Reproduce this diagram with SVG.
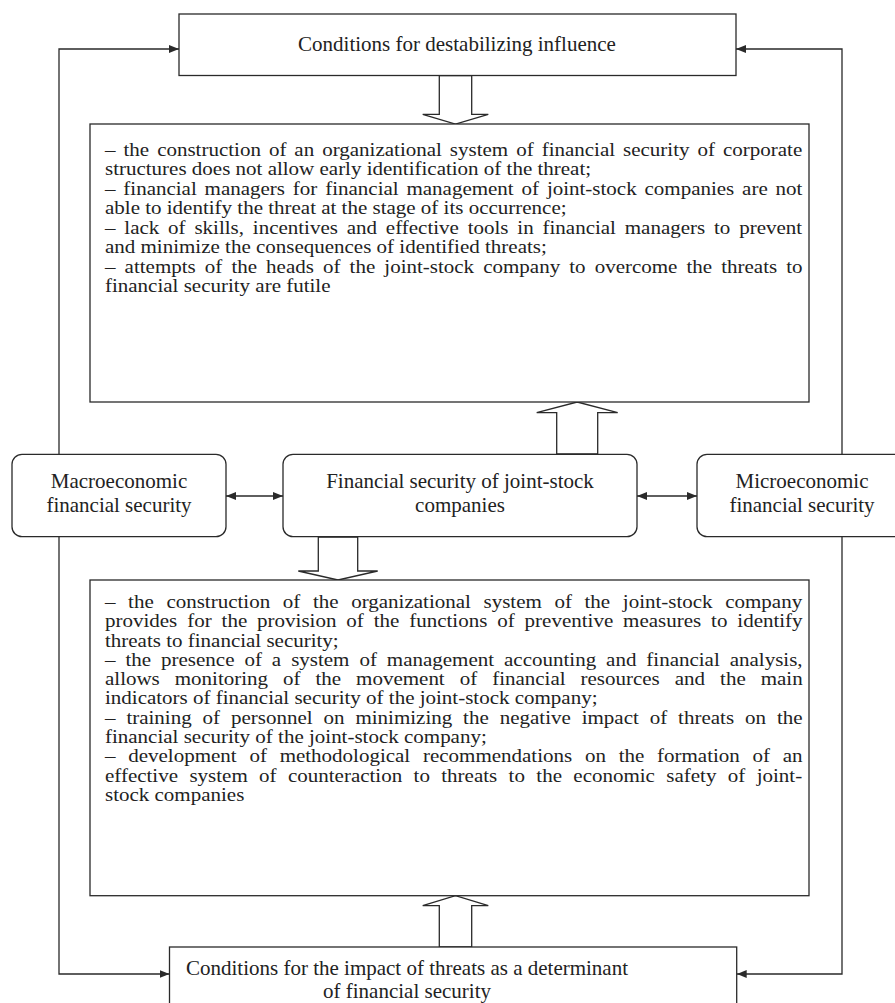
<svg xmlns="http://www.w3.org/2000/svg" width="895" height="1003" viewBox="0 0 895 1003">
<style>
.box{fill:#fff;stroke:#2a2a2a;stroke-width:1.3}
.ln{fill:none;stroke:#2a2a2a;stroke-width:1.3}
.blk{fill:#fff;stroke:#2a2a2a;stroke-width:1.3;stroke-linejoin:miter}
.t{font-family:"Liberation Serif","Times New Roman",serif;font-size:21px;fill:#222}
.b{font-family:"Liberation Serif","Times New Roman",serif;font-size:18px;fill:#222}
.c{text-anchor:middle}
</style>
<defs>
<marker id="ah" viewBox="0 0 10 10" refX="10" refY="5" markerWidth="10" markerHeight="10" markerUnits="userSpaceOnUse" orient="auto-start-reverse">
<path d="M0,1 L10,5 L0,9 Z" fill="#2a2a2a"/>
</marker>
</defs>
<rect width="895" height="1003" fill="#fff"/>

<g id="connectors">
<path class="ln" d="M59,454 V49 H179" marker-end="url(#ah)"/>
<path class="ln" d="M59,537 V974 H169.5" marker-end="url(#ah)"/>
<path class="ln" d="M842,454 V49 H736" marker-end="url(#ah)"/>
<path class="ln" d="M842,537 V974 H736.7" marker-end="url(#ah)"/>
<line class="ln" x1="226" y1="496" x2="283" y2="496" marker-start="url(#ah)" marker-end="url(#ah)"/>
<line class="ln" x1="637" y1="496" x2="697" y2="496" marker-start="url(#ah)" marker-end="url(#ah)"/>
<polygon class="blk" points="439.3,75.5 439.3,114.3 422.7,114.3 455.5,124 488.3,114.3 471.7,114.3 471.7,75.5"/>
<polygon class="blk" points="556.7,454 556.7,412.7 536.7,412.7 577.2,402 617.7,412.7 597.7,412.7 597.7,454"/>
<polygon class="blk" points="318.3,537 318.3,571 298.3,571 338,580 377.7,571 357.7,571 357.7,537"/>
<polygon class="blk" points="439.3,947 439.3,905.7 422.7,905.7 455.5,895.7 488.3,905.7 471.7,905.7 471.7,947"/>
</g>

<g id="top">
<rect class="box" x="179" y="14" width="557" height="61.5"/>
<text class="t c" x="457" y="51">Conditions for destabilizing influence</text>
</g>

<g id="threats-box">
<rect class="box" x="90" y="124" width="719" height="278"/>
<g transform="scale(1.1667 1)">
<text class="b" x="90" y="156" word-spacing="2.36">– the construction of an organizational system of financial security of corporate</text>
<text class="b" x="90" y="175.5">structures does not allow early identification of the threat;</text>
<text class="b" x="90" y="195" word-spacing="2.23">– financial managers for financial management of joint-stock companies are not</text>
<text class="b" x="90" y="214.5">able to identify the threat at the stage of its occurrence;</text>
<text class="b" x="90" y="234" word-spacing="3.07">– lack of skills, incentives and effective tools in financial managers to prevent</text>
<text class="b" x="90" y="253.5">and minimize the consequences of identified threats;</text>
<text class="b" x="90" y="273" word-spacing="3.30">– attempts of the heads of the joint-stock company to overcome the threats to</text>
<text class="b" x="90" y="292.5">financial security are futile</text>
</g>
</g>

<g id="macro">
<rect class="box" x="12" y="454.3" width="214" height="82.4" rx="10"/>
<text class="t c" x="119" y="488">Macroeconomic</text>
<text class="t c" x="119" y="512">financial security</text>
</g>

<g id="center">
<rect class="box" x="283" y="454.3" width="354" height="82.4" rx="10"/>
<text class="t c" x="460" y="488">Financial security of joint-stock</text>
<text class="t c" x="460" y="512">companies</text>
</g>

<g id="micro">
<rect class="box" x="697" y="454.3" width="210" height="82.4" rx="10"/>
<text class="t c" x="802" y="488">Microeconomic</text>
<text class="t c" x="802" y="512">financial security</text>
</g>

<g id="measures-box">
<rect class="box" x="90" y="580" width="719" height="315.7"/>
<g transform="scale(1.1667 1)">
<text class="b" x="90" y="608" word-spacing="6.33">– the construction of the organizational system of the joint-stock company</text>
<text class="b" x="90" y="627.3" word-spacing="3.99">provides for the provision of the functions of preventive measures to identify</text>
<text class="b" x="90" y="646.6">threats to financial security;</text>
<text class="b" x="90" y="665.9" word-spacing="4.04">– the presence of a system of management accounting and financial analysis,</text>
<text class="b" x="90" y="685.2" word-spacing="8.34">allows monitoring of the movement of financial resources and the main</text>
<text class="b" x="90" y="704.5">indicators of financial security of the joint-stock company;</text>
<text class="b" x="90" y="723.8" word-spacing="4.86">– training of personnel on minimizing the negative impact of threats on the</text>
<text class="b" x="90" y="743.1">financial security of the joint-stock company;</text>
<text class="b" x="90" y="762.4" word-spacing="6.43">– development of methodological recommendations on the formation of an</text>
<text class="b" x="90" y="781.7" word-spacing="5.26">effective system of counteraction to threats to the economic safety of joint-</text>
<text class="b" x="90" y="801">stock companies</text>
</g>
</g>

<g id="bottom">
<rect class="box" x="169.5" y="947" width="567.2" height="70"/>
<text class="t c" x="407" y="975">Conditions for the impact of threats as a determinant</text>
<text class="t c" x="407" y="998">of financial security</text>
</g>
</svg>
